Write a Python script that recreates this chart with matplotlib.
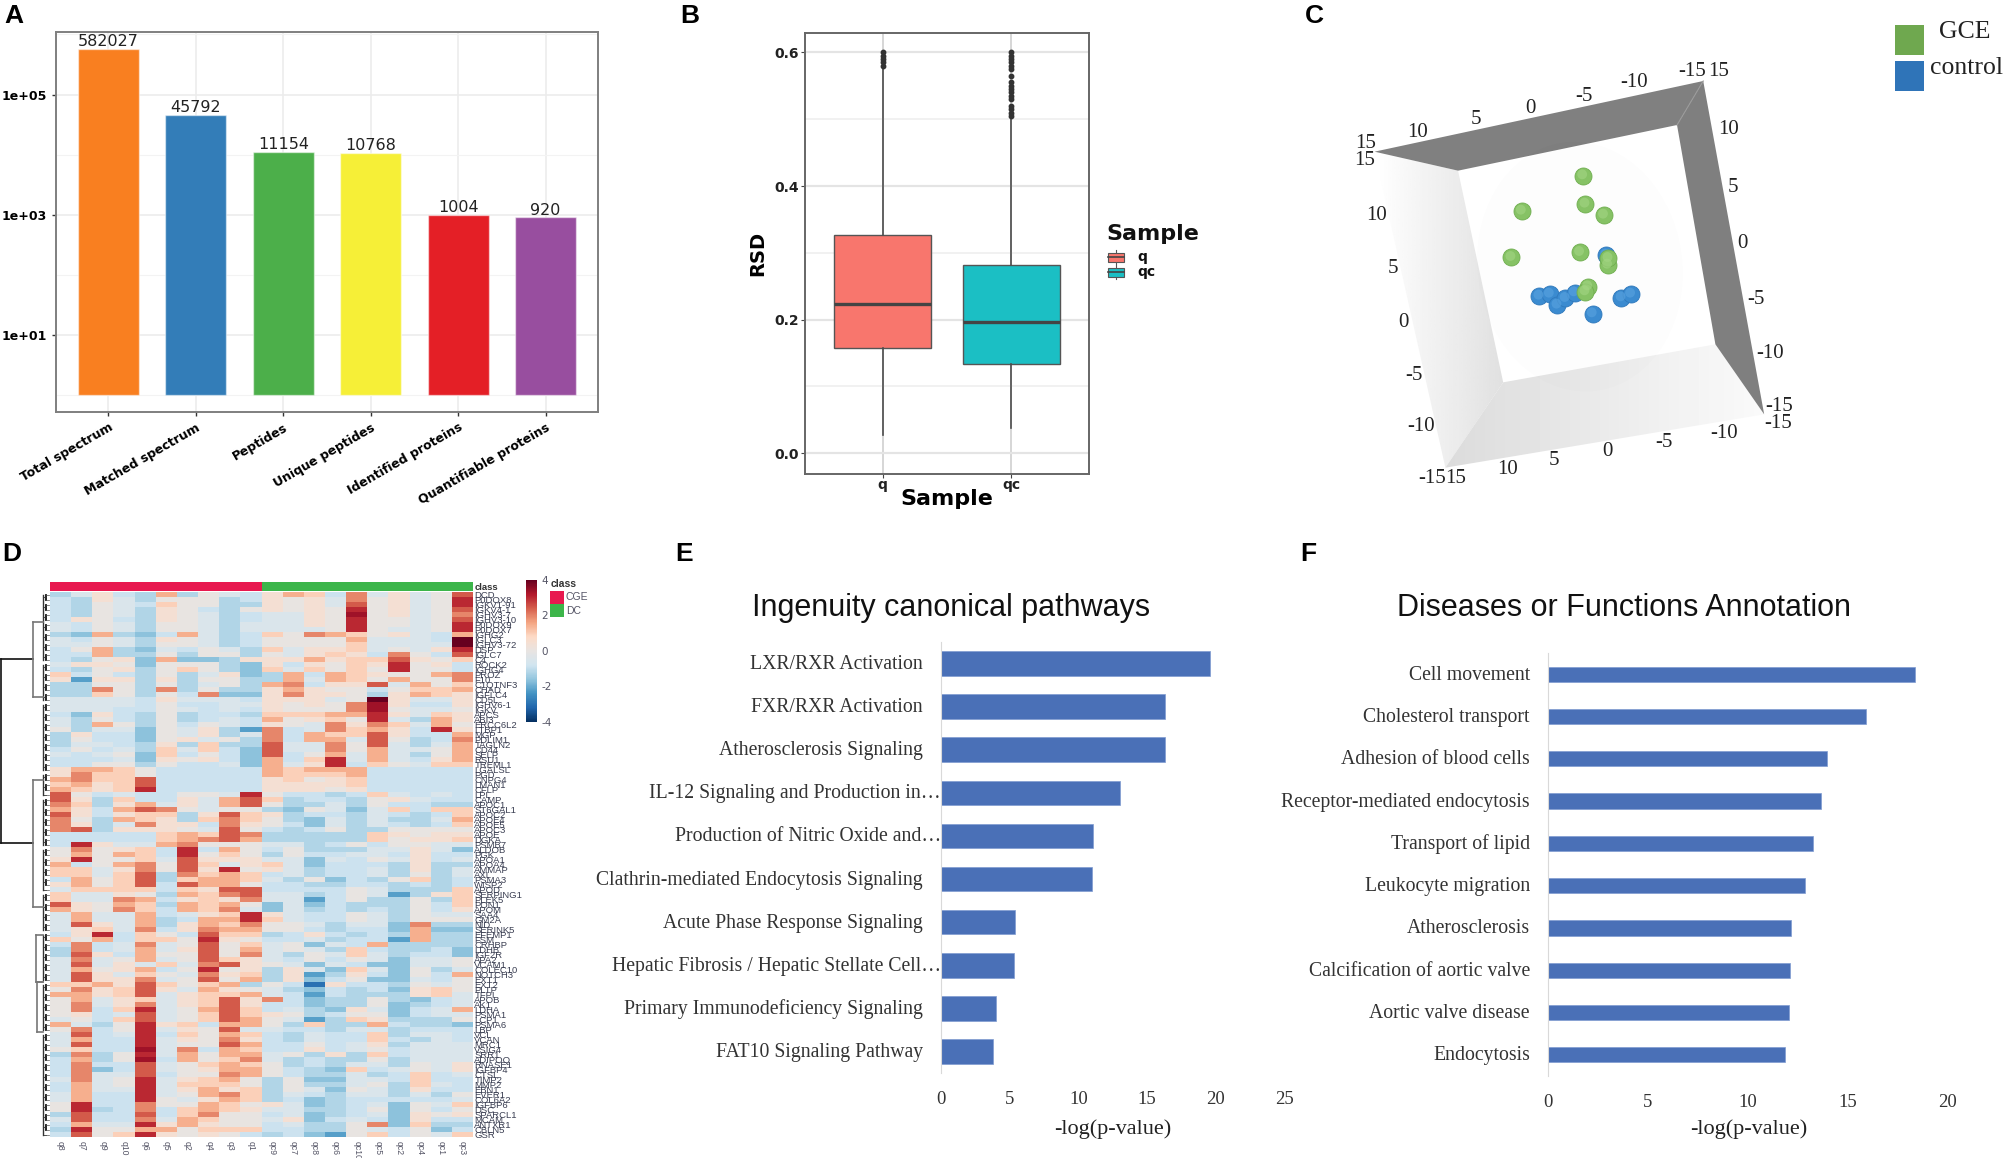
import numpy as np
import matplotlib
matplotlib.use("Agg")
import matplotlib.pyplot as plt
from matplotlib.colors import LinearSegmentedColormap, ListedColormap
from matplotlib.patches import Polygon, Rectangle, Ellipse
from matplotlib.ticker import NullFormatter

W, H = 2008, 1158
SERIF = "Liberation Serif"
SANS = "Liberation Sans"

# panel A
a_labels = ["Total spectrum", "Matched spectrum", "Peptides", "Unique peptides",
            "Identified proteins", "Quantifiable proteins"]
a_values = [582027, 45792, 11154, 10768, 1004, 920]
a_colors = ["#F97F20", "#337DB8", "#4CAF4A", "#F6EF37", "#E41F26", "#984E9F"]

# panel B
b_names = ["q", "qc"]
b_q1 = [0.157, 0.134]
b_med = [0.224, 0.196]
b_q3 = [0.326, 0.282]
b_lo = [0.027, 0.038]
b_hi = [0.58, 0.502]
b_fliers = [[0.58, 0.585, 0.59, 0.595, 0.6],
            [0.505, 0.51, 0.515, 0.52, 0.53, 0.535, 0.54, 0.545, 0.55, 0.555,
             0.565, 0.575, 0.58, 0.585, 0.59, 0.595, 0.6]]
b_colors = ["#F8766D", "#1BBFC4"]

gce_x = [627, 632, 673, 491, 620, 468, 682, 683, 638, 632]
gce_y = [527, 612, 645, 633, 757, 772, 795, 775, 860, 875]
control_x = [678, 530, 553, 570, 588, 608, 648, 712, 733]
control_y = [765, 888, 882, 915, 895, 878, 941, 893, 882]

# panel D
sample_names = ["q8", "q7", "q9", "q10", "q6", "q5", "q2", "q4", "q3", "q1",
                "qc9", "qc7", "qc8", "qc6", "qc10", "qc5", "qc2", "qc4", "qc1", "qc3"]
gene_names = ["DCD", "P0DOX8", "IGKV1-91", "IGKV4-1", "IGHV3-7", "IGHV3-10", "P0DOX9", "P0DOX7",
              "IGHG2", "IGLC3", "IGHV3-72", "DSP", "IGLC7", "C4", "ROCK2", "IGHG4", "PROZ", "F10",
              "C1QTNF3", "CHAD", "IGFLC4", "CD5L", "IGHV6-1", "IGKV", "APCS", "ABI3", "ERCC6L2",
              "LTBP1", "MGP", "PDLIM1", "TAGLN2", "CD44", "SELP", "RSU1", "TREML1", "LGALSL", "PGD",
              "CNPG4", "LMAN1", "CFLP", "LPL", "CAMP", "APOC1", "ST6GAL1", "APOC2", "APOE4", "APOE5",
              "APOC3", "APOE", "DGKA", "PSMB7", "ALDOB", "PGK", "APOA1", "APOA4", "AMMAP", "AXL",
              "PSMA3", "WISP2", "APOD", "SERPING1", "PLEK5", "PON1", "APOM", "SAA4", "GM2A", "NID",
              "SERINK5", "EFEMP1", "FSM", "CRHBP", "LDHB", "IGF2R", "APA2", "VCAM1", "COLEC10",
              "NOTCH3", "EXT1", "EXT2", "PLTP", "TFPI", "APOB", "AK1", "LDHA", "PSMA1", "LCP1",
              "PSMA6", "LBP", "VCL", "VCAN", "MRC1", "VSIG4", "SRR1", "ADIPOQ", "RNASE1", "IGFBP4",
              "CTSL", "TIMP2", "MMP2", "EBN1", "EVER1", "COL6A2", "IGFBP6", "DSC", "SPARCL1", "MCAM",
              "ANTXR1", "CBLN5", "GSR"]
# one letter per cell, see level_values
heat_rows = [
    "cegdcicfed gihdjegefk", "dcgecfffcd gfgejfgefl", "dcfedhffcc gfgekfgefl", "dcfecgfdcf gfgflfgefk",
    "dcfecgfecd eegfmfgefj", "dgfdcgfecd eegflffefk", "edfecffece eegflffefl", "edfecffece eeeflfeefl",
    "cbicbdiecd hfjihfgedi", "edfecgfecd ffffieeedn", "eefecffecd ffffheeeen", "dficbedfec hegghefegl",
    "ddiccfcffc feghgdjfdk", "dcfgbibbcg ggighhkgfh", "eggfbfffcb gdgfhglfgd", "dcfgcfhfcb hehfhflffd",
    "hdfdcfcegb cidihgffij", "gaggcgcffc cieihfiffj", "ccffcfcefc ijdggkeifh", "ccjfcjcfcc gigffdfhhi",
    "cchfcfdjbb gjggfcgihg", "eeeedgeeed gggefngeeg", "eeeedfddee gfgfjmgddg", "eeeddfeded gfffjmfeef",
    "dbgdcfcddc hhhiilgehg", "ecfdcfcded ifghflecig", "ecifcfdfed gfejgjheif", "fceebfegca jdejhigdlg",
    "cgddbfegce jdihhkgddi", "cfddbfgefc jdiiekfcdj", "ceedcgchcc keejfkecei", "dfdechehdb keejfieefi",
    "edefbhdfdb kdfieiecfi", "dddebgfgdb idhleiedgi", "ddffcfddeb iegldhfehh", "giihfddddd ihiiiddddd",
    "gjhhfddddd ihhhiddddd", "ijhhkddddd ghfghddddd", "highkddddd gggghddddd", "ihghlddddd gggfgddddd",
    "kfdeddffel fddcdheded", "kgchddgeik hcddcfgedd", "jhcgiegeik fccecfddcc", "igdikjfeff cbfebehdhh",
    "kgdghhcgkh gcddcedcdh", "jfcihgchjh fcbececcei", "jgcejggdjg fdbecedcdh", "jkcgggfekf dcdfccffff",
    "dddddhihkj ccccchgfgg", "dddddhijki ccccchfggh", "dlgeeijfff eecdfdffee", "fjfghdldif dfccceegeb",
    "fifihdlfhf cfddeedgdd", "glffhekggg eebedfegde", "idfijfkheg hebdddcgcc", "hhegjfkglf gecddecgce",
    "hhehkcjhih decddecfce", "difhkchiih ecfbdcfhcd", "gifhkdkiif ddccddcdcd", "ehhhhdhgkk ddddfeccch",
    "heegfcihjk eecdfeacgh", "heejidghgj eeadfccfch", "kgfihcihif bebdcccfdh", "igfjhdihje becdcdcfdg",
    "eieeideghl geddfecfee", "eieeicdiil heddfecfff", "ekgeicgihj ffeceebjcc", "eghejdgjii ffdcddbibb",
    "dgldhfdkhh cdgdcdcicc", "hfidhhflgf ddecddaicc", "djdejefkfh efbedicccc", "cjdeiegkfi efechdccdb",
    "ckgdiffkfj ecfehecddb", "ejefiefkhg edfdfebeef", "ekegehejkg febedbbeef", "eifgidflfg cgebhebfce",
    "ekgehfejgh cgacgdbfdi", "ekggjefkfi cgbdfbbedf", "hhigkhfhic fdzgddcfef", "fjghkgeigf ecbdcdbghf",
    "iighkeghhi edadcccghe", "fiegheghkg jdbccfcbde", "fjegjeghkg ddbccfbcde", "fjdhlefikh decbgebdei",
    "fgdekefhkh gfcdffbdee", "efdhkefhki feachgcccf", "iecflghdii fchccidccb", "fjdflegfke eddceecddd",
    "ekdeldhfih dceddhceed", "eiddlegfjg dceddhdced", "ekddleffki ddfdegceee", "fhddmejdih ddgdefdeee",
    "cjcfleifii efcgchdeee", "dicfmdifhj ecdccfceee", "djddkefhih fcdceecfeg", "djbdkefgii fdcbhdefeg",
    "djeekdffji fdccecdhde", "ejefleghif cfbbeedhdd", "dieflehhhf cfccefched", "dieelegigh cfebfecgdd",
    "eiddlefijh cedceececf", "eiddlfegih cdbcddddde", "flddjffihf gebcdebfeh", "flcdjdhihg eeccdfbfdf",
    "ckddkdhjff debcdebgfg", "ekddjeihff egbdedbgdd", "dieelgigff deccfjbhcc", "clffiifhhh ddccfedfbd",
    "dkfhlgfgfd cdbafhdfeh",
]
level_values = {"z": -3.0, "a": -2.2, "b": -1.65, "c": -1.2, "d": -0.85, "e": -0.5, "f": 0.0, "g": 0.45,
                "h": 0.95, "i": 1.45, "j": 1.95, "k": 2.45, "l": 3.0, "m": 3.4, "n": 4.0}
heat_colors = ["#053061", "#2166ac", "#4393c3", "#92c5de", "#d1e5f0", "#e8e4e2",
               "#fddbc7", "#f4a582", "#d6604d", "#b2182b", "#67001f"]
class_ids = [0] * 10 + [1] * 10
class_colors = ["#E8194F", "#3CB54A"]

# panel E
e_labels = ["LXR/RXR Activation", "FXR/RXR Activation", "Atherosclerosis Signaling",
            "IL-12 Signaling and Production in…", "Production of Nitric Oxide and…",
            "Clathrin-mediated Endocytosis Signaling", "Acute Phase Response Signaling",
            "Hepatic Fibrosis / Hepatic Stellate Cell…", "Primary Immunodeficiency Signaling",
            "FAT10 Signaling Pathway"]
e_values = [19.6, 16.3, 16.3, 13.0, 11.07, 10.98, 5.4, 5.33, 4.0, 3.82]

# panel F
f_labels = ["Cell movement", "Cholesterol transport", "Adhesion of blood cells",
            "Receptor-mediated endocytosis", "Transport of lipid", "Leukocyte migration",
            "Atherosclerosis", "Calcification of aortic valve", "Aortic valve disease", "Endocytosis"]
f_values = [18.37, 15.88, 13.95, 13.67, 13.26, 12.86, 12.16, 12.09, 12.07, 11.84]

fig = plt.figure(figsize=(W / 100, H / 100), dpi=100, facecolor="white")


def px_axes(x0, y0, x1, y1, **kw):
    """Axes placed by pixel box, y counted from the top of the figure."""
    return fig.add_axes([x0 / W, 1 - y1 / H, (x1 - x0) / W, (y1 - y0) / H], **kw)


# overlay for panel letters and loose legends
over = px_axes(0, 0, W, H, zorder=10)
over.set_xlim(0, W)
over.set_ylim(H, 0)
over.axis("off")
over.patch.set_alpha(0)

for letter, lx, ly in [("A", 4, 16), ("B", 680, 16), ("C", 1305, 16),
                       ("D", 2, 554), ("E", 675, 554), ("F", 1300, 554)]:
    over.text(lx, ly, letter, family=SANS, weight="bold", fontsize=19, va="center", ha="left")

# ---- A: log bars
ax = px_axes(56, 32, 598, 412)
x = np.arange(len(a_values))
ax.bar(x, np.array(a_values) - 1, bottom=1, width=0.7, color=a_colors,
       edgecolor="#ffffff80", linewidth=1, zorder=3)
for xi, v in zip(x, a_values):
    ax.text(xi, v * 0.98, str(v), ha="center", va="bottom", fontsize=11.5, color="#222222", zorder=4)
ax.set_yscale("log")
ax.set_xlim(-0.6, 5.6)
ax.set_ylim(10 ** -0.277, 10 ** 6.04)
ax.set_yticks([10, 1000, 100000])
ax.set_yticklabels(["1e+01", "1e+03", "1e+05"], fontsize=9, fontweight="bold")
ax.set_yticks([1, 100, 10000, 1000000], minor=True)
ax.tick_params(axis="y", which="minor", length=0)
ax.yaxis.set_minor_formatter(NullFormatter())
ax.set_xticks(x)
ax.set_xticklabels(a_labels, rotation=30, ha="right", rotation_mode="anchor", fontsize=9, fontweight="bold")
ax.tick_params(axis="both", length=3, width=1, color="#333333")
ax.grid(True, which="major", color="#ececec", linewidth=1.2)
ax.grid(True, which="minor", axis="y", color="#f3f3f3", linewidth=0.8)
ax.set_axisbelow(True)
for s in ax.spines.values():
    s.set_color("#7f7f7f")
    s.set_linewidth(1.4)

# ---- B: box plot
ax = px_axes(805.5, 33, 1088.5, 474)
stats = []
for i, name in enumerate(b_names):
    stats.append(dict(label=name, med=b_med[i], q1=b_q1[i], q3=b_q3[i],
                      whislo=b_lo[i], whishi=b_hi[i], fliers=b_fliers[i]))
parts = ax.bxp(stats, positions=[1, 2], widths=0.75, patch_artist=True, showcaps=False,
               boxprops=dict(edgecolor="#555555", linewidth=1),
               medianprops=dict(color="#444444", linewidth=2.4),
               whiskerprops=dict(color="#4d4d4d", linewidth=1.2),
               flierprops=dict(marker="o", markersize=3.2, markerfacecolor="#333333",
                               markeredgecolor="#333333"), zorder=3)
for box, c in zip(parts["boxes"], b_colors):
    box.set_facecolor(c)
ax.set_xlim(0.4, 2.6)
ax.set_ylim(-0.031, 0.629)
ax.set_yticks([0.0, 0.2, 0.4, 0.6])
ax.set_yticklabels(["0.0", "0.2", "0.4", "0.6"], fontsize=10, fontweight="bold", color="#222222")
ax.set_yticks([0.1, 0.3, 0.5], minor=True)
ax.set_xticks([1, 2])
ax.set_xticklabels(b_names, fontsize=10, fontweight="bold", color="#222222")
ax.tick_params(axis="y", length=3, color="#444444", pad=2)
ax.tick_params(axis="x", length=3, color="#444444", pad=0)
ax.tick_params(axis="y", which="minor", length=0)
ax.grid(True, which="major", axis="y", color="#e4e4e4", linewidth=1.6)
ax.grid(True, which="major", axis="x", color="#cfcfcf", linewidth=1.2)
ax.grid(True, which="minor", axis="y", color="#efefef", linewidth=1.2)
ax.set_axisbelow(True)
ax.set_ylabel("RSD", fontsize=14, fontweight="bold", labelpad=5)
ax.set_xlabel("Sample", fontsize=16, fontweight="bold", labelpad=-2)
for s in ax.spines.values():
    s.set_color("#666666")
    s.set_linewidth(1.4)

over.text(1106, 234, "Sample", fontsize=16, fontweight="bold", va="center", ha="left", color="#111111")
for name, c, ky in zip(b_names, b_colors, [257, 272]):
    over.plot([1116, 1116], [ky - 7, ky + 7], color="#555555", lw=0.8)
    over.add_patch(Rectangle((1108, ky - 4.5), 16, 9, facecolor=c, edgecolor="#555555", lw=0.8, zorder=3))
    over.plot([1108, 1124], [ky, ky], color="#444444", lw=1.2, zorder=4)
    over.text(1137, ky, name, fontsize=10, fontweight="bold", va="center", ha="left", color="#111111")

# ---- C: rotated 3D box, axes use a 1568x1500 grid over the panel
ax = px_axes(1300, 0, 2008, 500)
ax.set_xlim(0, 1568)
ax.set_ylim(1500, 0)
ax.axis("off")
out_tl, out_tr, out_br, out_bl = (165, 455), (893, 243), (1028, 1243), (322, 1403)
in_tl, in_tr, in_br, in_bl = (350, 512), (835, 375), (920, 1033), (450, 1147)
ax.add_patch(Polygon([out_tl, out_tr, in_tr, in_tl], facecolor="#808080", edgecolor="none"))
ax.add_patch(Polygon([out_tr, out_br, in_br, in_tr], facecolor="#7f7f7f", edgecolor="none"))
ax.plot([out_tr[0], in_tr[0]], [out_tr[1], in_tr[1]], color="#9a9a9a", lw=0.8)

left_grad = np.linspace(1.0, 0.88, 64)[None, :]
im = ax.imshow(left_grad, extent=(165, 450, 1403, 455), cmap="gray", vmin=0, vmax=1, aspect="auto")
im.set_clip_path(Polygon([out_tl, in_tl, in_bl, out_bl], transform=ax.transData))
bot_grad = np.linspace(0.86, 0.98, 64)[None, :]
im = ax.imshow(bot_grad, extent=(322, 1028, 1403, 1033), cmap="gray", vmin=0, vmax=1, aspect="auto")
im.set_clip_path(Polygon([in_bl, in_br, out_br, out_bl], transform=ax.transData))
ax.set_xlim(0, 1568)
ax.set_ylim(1500, 0)
ax.add_patch(Ellipse((620, 800), 455, 750, angle=-3, facecolor="#000000", alpha=0.008, edgecolor="none"))

ax.scatter(control_x, control_y, s=150, color="#3b8bd0", edgecolor="#2f78bb", linewidth=0.6, zorder=4)
ax.scatter(np.array(control_x) - 2, np.array(control_y) - 4, s=50, color="#5aa4e0", edgecolor="none", alpha=0.6, zorder=4)
ax.scatter(gce_x, gce_y, s=150, color="#86c265", edgecolor="#6fae4f", linewidth=0.6, zorder=5)
ax.scatter(np.array(gce_x) - 2, np.array(gce_y) - 4, s=50, color="#a4d684", edgecolor="none", alpha=0.6, zorder=5)

c_ticks = [("15", 145, 432), ("10", 260, 397), ("5", 390, 360), ("0", 510, 325), ("-5", 628, 290),
           ("-10", 740, 248), ("-15", 868, 215), ("15", 928, 215),
           ("10", 950, 390), ("5", 958, 563), ("0", 980, 730), ("-5", 1010, 900),
           ("-10", 1042, 1062), ("-15", 1062, 1220),
           ("15", 142, 482), ("10", 170, 645), ("5", 205, 805), ("0", 230, 968),
           ("-5", 252, 1125), ("-10", 268, 1280), ("-15", 293, 1435),
           ("15", 345, 1435), ("10", 460, 1408), ("5", 563, 1382), ("0", 680, 1355),
           ("-5", 805, 1328), ("-10", 940, 1300), ("-15", 1060, 1270)]
for txt, tx, ty in c_ticks:
    ax.text(tx, ty, txt, family=SERIF, fontsize=15, ha="center", va="center", color="#222222")

ax.add_patch(Rectangle((1317, 76), 65, 88, facecolor="#6FA84F", edgecolor="none"))
ax.add_patch(Rectangle((1317, 184), 65, 88, facecolor="#2F74B8", edgecolor="none"))
ax.text(1473, 97, "GCE", family=SERIF, fontsize=18.5, ha="center", va="center", color="#222222")
ax.text(1476, 205, "control", family=SERIF, fontsize=18.5, ha="center", va="center", color="#222222")

# ---- D: heat map with class bar and row tree
heat = np.array([[level_values[ch] for ch in row.replace(" ", "")] for row in heat_rows])
n_rows = heat.shape[0]
cmap = LinearSegmentedColormap.from_list("rdbu", heat_colors)

ax = px_axes(50, 592, 473, 1137)
mesh = ax.pcolormesh(heat, cmap=cmap, vmin=-4, vmax=4)
ax.set_ylim(n_rows, 0)
ax.set_xticks(np.arange(len(sample_names)) + 0.5)
ax.set_xticklabels(sample_names, rotation=-90, fontsize=6.2, color="#555566", family=SANS)
ax.tick_params(axis="x", length=0, pad=3)
ax.yaxis.tick_right()
ax.set_yticks(np.arange(n_rows) + 0.5)
ax.set_yticklabels(gene_names[:n_rows], fontsize=6.8, color="#3a3e52", family=SANS)
ax.tick_params(axis="y", length=0, pad=1)
for s in ax.spines.values():
    s.set_visible(False)

ax = px_axes(50, 582, 473, 591)
ax.pcolormesh([class_ids], cmap=ListedColormap(class_colors), vmin=0, vmax=1)
ax.axis("off")
over.text(475, 587, "class", family=SANS, fontsize=6.8, fontweight="bold", va="center", color="#333333")

cax = px_axes(526, 580, 537, 722)
cb = fig.colorbar(mesh, cax=cax, ticks=[-4, -2, 0, 2, 4])
cb.outline.set_visible(False)
cb.ax.set_yticklabels(["-4", "-2", "0", "2", "4"])
cb.ax.tick_params(length=0, labelsize=7.5, labelcolor="#555566", pad=3)

over.text(551, 584, "class", family=SANS, fontsize=7.5, fontweight="bold", va="center", color="#333333")
for name, c, y0 in zip(["CGE", "DC"], class_colors, [591, 604]):
    over.add_patch(Rectangle((550, y0), 14, 13, facecolor=c, edgecolor="none"))
    over.text(566, y0 + 6.5, name, family=SANS, fontsize=7.5, va="center", color="#555566")

ax = px_axes(0, 592, 50, 1137)
ax.set_xlim(0, 50)
ax.set_ylim(n_rows, 0)
ax.axis("off")
tree_edges = [0, 14, 22, 36, 41, 51, 60, 68, 78, 88, 109]
for r0, r1 in zip(tree_edges[:-1], tree_edges[1:]):
    rows = np.arange(r0, r1) + 0.5
    ax.plot([43, 43], [rows[0], rows[-1]], color="#333333", lw=1.0)
    for i in range(0, len(rows), 2):
        grp = rows[i:i + 2]
        ax.plot([46.5, 46.5], [grp[0], grp[-1]], color="#111111", lw=1.3)
        ax.plot([43, 46.5], [grp.mean(), grp.mean()], color="#333333", lw=0.6)
        for rv in grp:
            ax.plot([46.5, 49.5], [rv, rv], color="#555555", lw=0.5)
tree_forks = [(1, 13.4, 50.2, 33, "#111111"), (33, 6, 21, 43, "#777777"),
              (33, 37.5, 63, 43, "#777777"), (36, 68.6, 78, 43, "#777777"),
              (37, 78, 88, 43, "#777777")]
for fx, fy0, fy1, fx_end, col in tree_forks:
    ax.plot([fx, fx], [fy0, fy1], color=col, lw=1.2)
    ax.plot([fx, fx_end], [fy0, fy0], color=col, lw=1.2)
    ax.plot([fx, fx_end], [fy1, fy1], color=col, lw=1.2)


# ---- E and F: horizontal bars
def hbar_panel(box, values, labels, xmax, xticks, height, title, title_x, xlabel_x):
    ax = px_axes(*box)
    y = np.arange(len(values))
    ax.barh(y, values, height=height, color="#4A70B7", edgecolor="#7f9bd0", linewidth=0.5)
    ax.set_xlim(0, xmax)
    ax.set_ylim(len(values) - 0.5, -0.5)
    ax.set_yticks([])
    ax.set_xticks(xticks)
    ax.set_xticklabels([str(t) for t in xticks], family=SERIF, fontsize=13.5, color="#333333")
    ax.tick_params(axis="x", length=0, pad=13)
    for side in ["top", "right", "bottom"]:
        ax.spines[side].set_visible(False)
    ax.spines["left"].set_color("#d9d9d9")
    for yi, lab in zip(y, labels):
        pad = 0 if lab.endswith("…") else 18
        ax.annotate(lab, (0, yi), xytext=(-pad, -1), textcoords="offset pixels", ha="right", va="center",
                    family=SERIF, fontsize=14.2, color="#333333", annotation_clip=False)
    over.text(title_x, 608, title, family=SANS, fontsize=22, ha="center", va="center", color="#111111")
    over.text(xlabel_x, 1129, "-log(p-value)", family=SERIF, fontsize=16, ha="center", va="center", color="#222222")
    return ax


hbar_panel((941, 642, 1284.5, 1073), e_values, e_labels, 25, [0, 5, 10, 15, 20, 25], 0.57,
           "Ingenuity canonical pathways", 951.5, 1113)
hbar_panel((1548, 653, 1948, 1076), f_values, f_labels, 20, [0, 5, 10, 15, 20], 0.36,
           "Diseases or Functions Annotation", 1624, 1749)

fig.savefig("out.png", dpi=100, facecolor="white")
